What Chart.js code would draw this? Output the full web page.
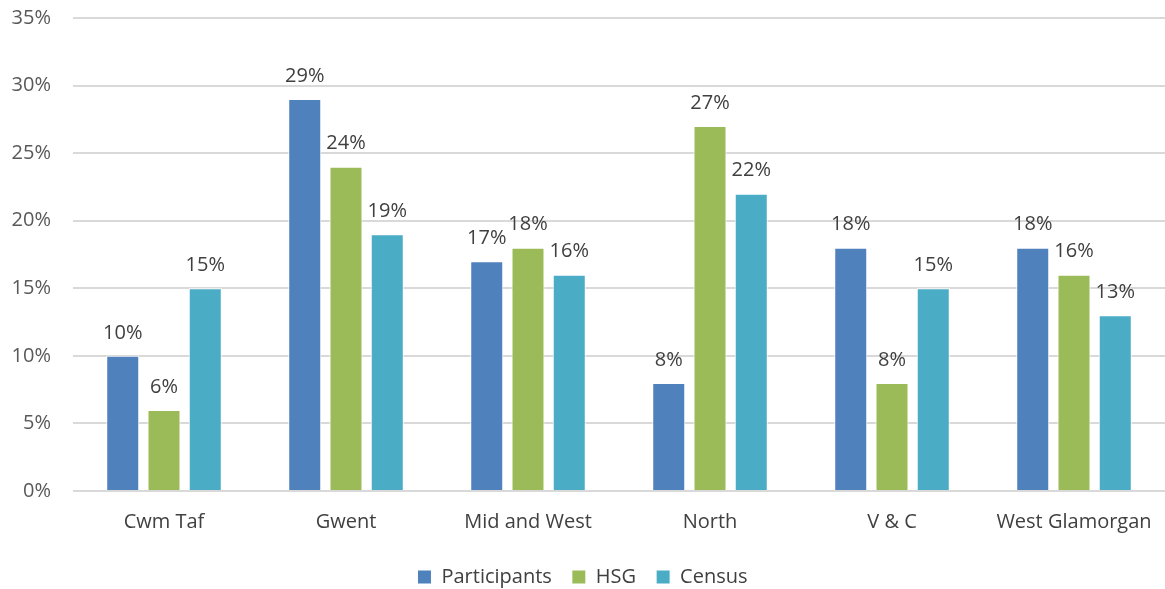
<!DOCTYPE html>
<html>
<head>
<meta charset="utf-8">
<script src="https://cdn.jsdelivr.net/npm/chart.js@4"></script>
<style>
  html, body { margin: 0; padding: 0; background: #fff; overflow: hidden; }
  #wrap { width: 1165px; height: 597px; }
</style>
</head>
<body>
<div id="wrap"><canvas id="myChart"></canvas></div>
<script>
const regions = ['Cwm Taf', 'Gwent', 'Mid and West', 'North', 'V & C', 'West Glamorgan'];
const participants = [10, 29, 17, 8, 18, 18];
const hsg = [6, 24, 18, 27, 8, 16];
const census = [15, 19, 16, 22, 15, 13];

const fontFam = '"Open Sans", "Noto Sans", sans-serif';

// draws the % label above each bar
const barLabels = {
  id: 'barLabels',
  afterDatasetsDraw(chart) {
    const ctx = chart.ctx;
    ctx.save();
    ctx.font = '20px ' + fontFam;
    ctx.fillStyle = '#404040';
    ctx.textAlign = 'center';
    ctx.textBaseline = 'bottom';
    chart.data.datasets.forEach((ds, i) => {
      chart.getDatasetMeta(i).data.forEach((bar, j) => {
        ctx.fillText(ds.data[j] + '%', bar.x, bar.y - 13);
      });
    });
    ctx.restore();
  }
};

new Chart(document.getElementById('myChart'), {
  type: 'bar',
  data: {
    labels: regions,
    datasets: [
      { label: 'Participants', data: participants, backgroundColor: '#4F81BD' },
      { label: 'HSG', data: hsg, backgroundColor: '#9BBB59' },
      { label: 'Census', data: census, backgroundColor: '#4BACC6' }
    ]
  },
  options: {
    responsive: true,
    maintainAspectRatio: false,
    animation: false,
    categoryPercentage: 0.68,
    barPercentage: 0.8,
    layout: { padding: { top: 18, right: 0, left: 0, bottom: 0 } },
    datasets: { bar: { borderColor: '#ffffff', borderWidth: 1 } },
    plugins: {
      tooltip: { enabled: false },
      legend: {
        position: 'bottom',
        labels: {
          boxWidth: 14,
          boxHeight: 14,
          padding: 20,
          color: '#404040',
          font: { size: 20, family: fontFam }
        }
      }
    },
    scales: {
      x: {
        grid: { display: false },
        border: { color: '#d9d9d9' },
        afterFit(scale) { scale.height = 56; },
        ticks: { color: '#404040', font: { size: 20, family: fontFam }, padding: 11 }
      },
      y: {
        min: 0,
        max: 35,
        afterFit(scale) {
          scale.width = 73;
          scale.paddingTop = 0;
          scale.paddingBottom = 0;
        },
        grid: { color: '#d9d9d9', lineWidth: 2, drawTicks: false },
        border: { display: false },
        ticks: {
          stepSize: 5,
          padding: 22,
          color: '#595959',
          font: { size: 20, family: fontFam },
          callback: v => v + '%'
        }
      }
    }
  },
  plugins: [barLabels]
});
</script>
</body>
</html>
